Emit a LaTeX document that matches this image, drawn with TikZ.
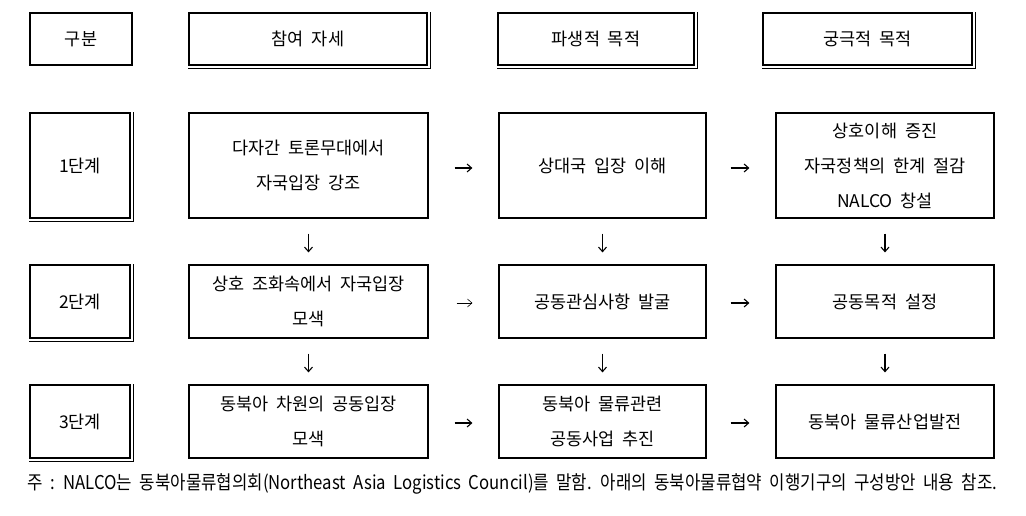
\documentclass[tikz,border=0pt]{standalone}
\usepackage{graphicx}
\usepackage{fontspec}
\setmainfont[WordSpace=2.0]{Noto Sans CJK KR}
\usetikzlibrary{arrows.meta}
\begin{document}
\begin{tikzpicture}[x=1pt,y=-1pt,
  box/.style={draw, line width=1.2pt, inner sep=0pt, align=center,
    font=\fontsize{17.5}{35}\selectfont},
  conn/.style={line width=1.1pt, -{Straight Barb[length=4.5pt,width=8pt]}},
  thinconn/.style={conn, line width=0.6pt},
  dbl/.style={line width=1.2pt}]
\useasboundingbox (0,0) rectangle (1026,516);
% header
\node[box, minimum width=102pt, minimum height=52pt] (h0) at (81,39) {구분};
\node[box, minimum width=238pt, minimum height=52pt] (h1) at (308,39) {참여 자세};
\node[box, minimum width=196pt, minimum height=52pt] (h2) at (596,39) {파생적 목적};
\node[box, minimum width=209pt, minimum height=52pt] (h3) at (867.5,39) {궁극적 목적};
% stage labels
\node[box, minimum width=100pt, minimum height=105pt] (s1) at (80,165.5) {1단계};
\node[box, minimum width=100pt, minimum height=73pt] (s2) at (80,301.5) {2단계};
\node[box, minimum width=100pt, minimum height=73pt] (s3) at (80,421.5) {3단계};
% row 1
\node[box, minimum width=239pt, minimum height=105pt] (a1) at (308.5,165.5) {다자간 토론무대에서\\자국입장 강조};
\node[box, minimum width=207pt, minimum height=105pt] (b1) at (602.5,165.5) {상대국 입장 이해};
\node[box, minimum width=218pt, minimum height=105pt] (c1) at (885,165.5) {상호이해 증진\\자국정책의 한계 절감\\NALCO 창설};
% row 2
\node[box, minimum width=239pt, minimum height=73pt] (a2) at (308.5,301.5) {상호 조화속에서 자국입장\\모색};
\node[box, minimum width=207pt, minimum height=73pt] (b2) at (602.5,301.5) {공동관심사항 발굴};
\node[box, minimum width=218pt, minimum height=73pt] (c2) at (885,301.5) {공동목적 설정};
% row 3
\node[box, minimum width=239pt, minimum height=73pt] (a3) at (308.5,421.5) {동북아 차원의 공동입장\\모색};
\node[box, minimum width=207pt, minimum height=73pt] (b3) at (602.5,421.5) {동북아 물류관련\\공동사업 추진};
\node[box, minimum width=218pt, minimum height=73pt] (c3) at (885,421.5) {동북아 물류산업발전};
% double-line shadows
\foreach \n in {h1,h2,h3,s1,s2,s3}{
  \draw[dbl] ([xshift=3pt]\n.north east) -- ([shift={(3pt,-3pt)}]\n.south east) -- ([yshift=-3pt]\n.south west);
}
% horizontal arrows
\draw[conn, shorten <=26pt, shorten >=26pt] ([yshift=-2.5pt]a1.east) -- ([yshift=-2.5pt]b1.west);
\draw[conn, shorten <=24pt, shorten >=26pt] ([yshift=-2.5pt]b1.east) -- ([yshift=-2.5pt]c1.west);
\draw[thinconn, shorten <=28pt, shorten >=26pt] ([yshift=-1.5pt]a2.east) -- ([yshift=-1.5pt]b2.west);
\draw[conn, shorten <=24pt, shorten >=26pt] ([yshift=-1.5pt]b2.east) -- ([yshift=-1.5pt]c2.west);
\draw[conn, shorten <=26pt, shorten >=26pt] ([yshift=-1.5pt]a3.east) -- ([yshift=-1.5pt]b3.west);
\draw[conn, shorten <=24pt, shorten >=26pt] ([yshift=-1.5pt]b3.east) -- ([yshift=-1.5pt]c3.west);
% vertical arrows
\foreach \c in {a,b,c}{
  \draw[conn, shorten <=15pt, shorten >=12pt] (\c1.south) -- (\c2.north);
  \draw[conn, shorten <=15pt, shorten >=12pt] (\c2.south) -- (\c3.north);
}
% footnote
\node[anchor=west, inner sep=0pt] (note) at (27,484) {\resizebox{970pt}{\height}{\fontsize{19}{19}\selectfont 주 : NALCO는 동북아물류협의회(Northeast Asia Logistics Council)를 말함. 아래의 동북아물류협약 이행기구의 구성방안 내용 참조.}};
\end{tikzpicture}
\end{document}
